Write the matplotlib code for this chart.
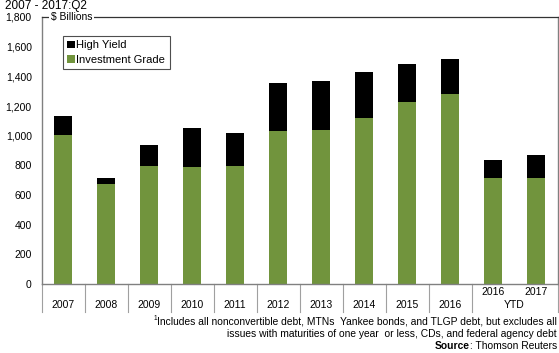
import numpy as np
import matplotlib.pyplot as plt
from matplotlib.transforms import blended_transform_factory

plt.rcParams['font.family'] = ['Liberation Sans', 'DejaVu Sans']

# issuance, $ billions
years = ['2007', '2008', '2009', '2010', '2011', '2012', '2013', '2014', '2015', '2016', '2016', '2017']
investment_grade = [1005, 675, 797, 790, 796, 1032, 1038, 1121, 1225, 1279, 716, 716]
high_yield = [130, 40, 140, 260, 222, 323, 329, 306, 256, 238, 120, 154]
ytd_count = 2

green = '#71943d'

fig = plt.figure(figsize=(5.59, 3.53), dpi=100)
ax = fig.add_axes([41.5 / 559, 69 / 353, 516 / 559, 267 / 353])

x = np.arange(len(years))
ax.bar(x, investment_grade, width=0.4, color=green, label='Investment Grade', zorder=2)
ax.bar(x, high_yield, width=0.4, bottom=investment_grade, color='black',
       label='High Yield', zorder=2)

ax.set_xlim(-0.5, len(years) - 0.5)
ax.set_ylim(0, 1800)
ax.set_yticks(range(0, 1801, 200))
ax.set_yticklabels([f'{v:,}' for v in range(0, 1801, 200)], fontsize=7.5)
ax.tick_params(axis='y', length=0, pad=7)
ax.set_xticks([])

for side in ['left', 'right', 'bottom']:
    ax.spines[side].set_color('#808080')
    ax.spines[side].set_linewidth(1.0)
ax.spines['top'].set_color('#333333')
ax.spines['top'].set_linewidth(0.9)

ax.text(0.018, 1.0, '$ Billions', transform=ax.transAxes, fontsize=7.5,
        va='center', ha='left', zorder=5,
        bbox=dict(facecolor='white', edgecolor='none', pad=1.0))

# category axis: separators and labels below the zero line
trans = blended_transform_factory(ax.transData, ax.transAxes)
n_annual = len(years) - ytd_count
sep_len = 0.105
for b in list(np.arange(n_annual + 1) - 0.5) + [len(years) - 0.5]:
    ax.plot([b, b], [0, -sep_len], transform=trans, color='#a0a0a0',
            lw=0.8, clip_on=False)
for i in range(n_annual):
    ax.text(i, -0.08, years[i], transform=trans, fontsize=7.5,
            ha='center', va='center')
for i in range(n_annual, len(years)):
    ax.text(i, -0.03, years[i], transform=trans, fontsize=7.5,
            ha='center', va='center')
ax.text(n_annual + 0.5, -0.08, 'YTD', transform=trans, fontsize=7.5,
        ha='center', va='center')

handles, labels = ax.get_legend_handles_labels()
leg = ax.legend(handles[::-1], labels[::-1], loc='upper left',
                bbox_to_anchor=(0.0417, 0.929), fontsize=8, frameon=True,
                fancybox=False, edgecolor='#222222', handlelength=0.65,
                handleheight=0.65, handletextpad=0.15, borderpad=0.4,
                labelspacing=0.4, borderaxespad=0)
leg.get_frame().set_linewidth(0.8)

fig.text(5 / 559, 1.0, '2007 - 2017:Q2', fontsize=8.5, ha='left', va='top')

# footnote, right aligned under the category axis
renderer = fig.canvas.get_renderer()
right = 557 / 559
note_size = 7.4
line1 = fig.text(right, (353 - 321) / 353,
                 'Includes all nonconvertible debt, MTNs  Yankee bonds, and TLGP debt, but excludes all',
                 fontsize=note_size, ha='right', va='center')
fig.text(right, (353 - 334) / 353,
         'issues with maturities of one year  or less, CDs, and federal agency debt',
         fontsize=note_size, ha='right', va='center')
bb = line1.get_window_extent(renderer).transformed(fig.transFigure.inverted())
fig.text(bb.x0, (353 - 318) / 353, '1', fontsize=4.8, ha='right', va='center')

src = fig.text(right, (353 - 346) / 353, ': Thomson Reuters', fontsize=note_size,
               ha='right', va='center')
bb = src.get_window_extent(renderer).transformed(fig.transFigure.inverted())
fig.text(bb.x0, (353 - 346) / 353, 'Source', fontsize=note_size, fontweight='bold',
         ha='right', va='center')

fig.savefig('out.png', dpi=100)
